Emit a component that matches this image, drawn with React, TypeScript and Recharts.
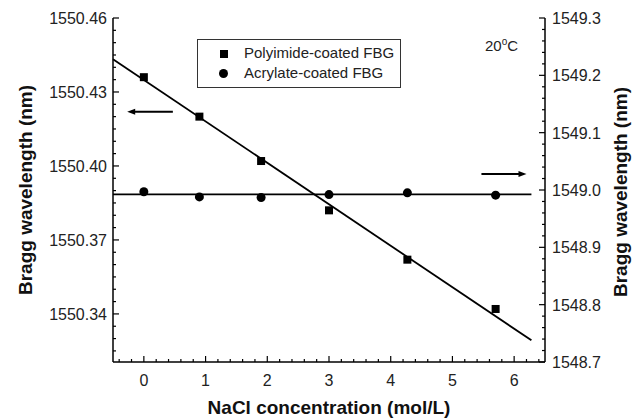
import {
  ComposedChart,
  Label,
  ReferenceLine,
  Scatter,
  XAxis,
  YAxis,
} from "recharts";

// NaCl concentration (mol/L)
const concentration = [0, 0.9, 1.9, 3.0, 4.27, 5.7];
// polyimide-coated FBG, left axis (nm)
const polyimideWl = [1550.436, 1550.42, 1550.402, 1550.382, 1550.362, 1550.342];
// acrylate-coated FBG, right axis (nm)
const acrylateWl = [1548.997, 1548.988, 1548.987, 1548.992, 1548.995, 1548.991];

// linear fits at their two ends
const polyimideFit = [{ x: -0.5, y: 1550.4433 }, { x: 6.28, y: 1550.3293 }];
const acrylateFit = [{ x: -0.5, y: 1548.9925 }, { x: 6.28, y: 1548.9925 }];

// arrows telling which axis each set belongs to (tail -> head)
const leftArrow = [{ x: 0.47, y: 1550.422 }, { x: -0.27, y: 1550.422 }];
const rightArrow = [{ x: 5.47, y: 1549.028 }, { x: 6.2, y: 1549.028 }];

const xDomain: [number, number] = [-0.5, 6.5];
const leftDomain: [number, number] = [1550.3205, 1550.46];
const rightDomain: [number, number] = [1548.7, 1549.3];

const xMajor = [0, 1, 2, 3, 4, 5, 6];
const leftMajor = [1550.34, 1550.37, 1550.4, 1550.43, 1550.46];
const rightMajor = [1548.7, 1548.8, 1548.9, 1549.0, 1549.1, 1549.2, 1549.3];

const steps = (from: number, to: number, step: number, dp: number) => {
  const out: number[] = [];
  for (let v = from; v <= to + step / 2; v += step) out.push(Number(v.toFixed(dp)));
  return out;
};
const xTicks = steps(-0.4, 6.4, 0.2, 1);
const leftTicks = steps(1550.325, 1550.46, 0.005, 3);
const rightTicks = steps(1548.7, 1549.3, 0.02, 2);

const isMajor = (v: number, list: number[]) => list.some((m) => Math.abs(m - v) < 1e-6);

const FONT = "'Liberation Sans', Arial, sans-serif";
const MAJOR = 6;
const MINOR = 3;

function BottomTick({ x, y, payload }: any) {
  const major = isMajor(payload.value, xMajor);
  return (
    <g>
      <line x1={x} y1={y} x2={x} y2={y - (major ? MAJOR : MINOR)} stroke="#000" strokeWidth={1.2} />
      {major && (
        <text x={x} y={y + 24} textAnchor="middle" fontSize={16} fontFamily={FONT} fill="#222">
          {payload.value}
        </text>
      )}
    </g>
  );
}

function TopTick({ x, y, payload }: any) {
  const major = isMajor(payload.value, xMajor);
  return <line x1={x} y1={y} x2={x} y2={y + (major ? MAJOR : MINOR)} stroke="#000" strokeWidth={1.2} />;
}

function LeftTick({ x, y, payload }: any) {
  const major = isMajor(payload.value, leftMajor);
  return (
    <g>
      <line x1={x} y1={y} x2={x + (major ? MAJOR : MINOR)} y2={y} stroke="#000" strokeWidth={1.2} />
      {major && (
        <text x={x - 6} y={y + 6} textAnchor="end" fontSize={16} fontFamily={FONT} fill="#222">
          {payload.value.toFixed(2)}
        </text>
      )}
    </g>
  );
}

function RightTick({ x, y, payload }: any) {
  const major = isMajor(payload.value, rightMajor);
  return (
    <g>
      <line x1={x} y1={y} x2={x - (major ? MAJOR : MINOR)} y2={y} stroke="#000" strokeWidth={1.2} />
      {major && (
        <text x={x + 7} y={y + 6} textAnchor="start" fontSize={16} fontFamily={FONT} fill="#222">
          {payload.value.toFixed(1)}
        </text>
      )}
    </g>
  );
}

function Arrow({ x1, y1, x2, y2 }: any) {
  const dir = Math.sign(x2 - x1);
  return (
    <g>
      <line x1={x1} y1={y1} x2={x2 - dir * 4} y2={y2} stroke="#000" strokeWidth={2} />
      <polygon points={`${x2},${y2} ${x2 - dir * 8},${y2 - 3} ${x2 - dir * 8},${y2 + 3}`} fill="#000" />
    </g>
  );
}

const squareShape = ({ cx, cy }: any) => <rect x={cx - 4} y={cy - 4} width={8} height={8} fill="#000" />;
const circleShape = ({ cx, cy }: any) => <circle cx={cx} cy={cy} r={4.5} fill="#000" />;

const axisTitle = (text: string, cx: number, cy: number, angle: number) => () => (
  <text
    x={cx} y={cy} textAnchor="middle" dominantBaseline="central"
    transform={angle ? `rotate(${angle} ${cx} ${cy})` : undefined}
    fontSize={19} fontWeight="bold" fontFamily={FONT} fill="#111"
  >
    {text}
  </text>
);

export default function App() {
  const polyimide = concentration.map((c, i) => ({ x: c, y: polyimideWl[i] }));
  const acrylate = concentration.map((c, i) => ({ x: c, y: acrylateWl[i] }));
  const axisLine = { stroke: "#000", strokeWidth: 1.5 };

  return (
    <div style={{ position: "absolute", left: 0, top: 0, width: 642, height: 418, background: "#fff" }}>
      <ComposedChart width={642} height={418} margin={{ top: 18, right: 37, bottom: 4, left: 53 }}>
        <XAxis
          type="number" dataKey="x" domain={xDomain} allowDataOverflow ticks={xTicks} interval={0}
          tick={<BottomTick />} tickLine={false} tickSize={0} tickMargin={0} axisLine={axisLine} height={52}
        >
          <Label content={axisTitle("NaCl concentration (mol/L)", 329, 407, 0)} />
        </XAxis>
        <XAxis
          xAxisId="top" orientation="top" type="number" domain={xDomain} allowDataOverflow ticks={xTicks}
          interval={0} tick={<TopTick />} tickLine={false} tickSize={0} tickMargin={0} axisLine={axisLine} height={0}
        />
        <YAxis
          yAxisId="left" type="number" dataKey="y" domain={leftDomain} allowDataOverflow ticks={leftTicks} interval={0}
          tick={<LeftTick />} tickLine={false} tickSize={0} tickMargin={0} axisLine={axisLine} width={60}
        >
          <Label content={axisTitle("Bragg wavelength (nm)", 25, 190, -90)} />
        </YAxis>
        <YAxis
          yAxisId="right" orientation="right" type="number" dataKey="y" domain={rightDomain} allowDataOverflow
          ticks={rightTicks} interval={0} tick={<RightTick />} tickLine={false} tickSize={0} tickMargin={0}
          axisLine={axisLine} width={60}
        >
          <Label content={axisTitle("Bragg wavelength (nm)", 620, 192, -90)} />
        </YAxis>

        <ReferenceLine yAxisId="left" segment={polyimideFit} stroke="#000" strokeWidth={1.8} ifOverflow="visible" />
        <ReferenceLine yAxisId="right" segment={acrylateFit} stroke="#000" strokeWidth={1.8} ifOverflow="visible" />
        <ReferenceLine yAxisId="left" segment={leftArrow} shape={(p: any) => <Arrow {...p} />} ifOverflow="visible" />
        <ReferenceLine yAxisId="right" segment={rightArrow} shape={(p: any) => <Arrow {...p} />} ifOverflow="visible" />

        <Scatter yAxisId="left" data={polyimide} dataKey="y" shape={squareShape} isAnimationActive={false} />
        <Scatter yAxisId="right" data={acrylate} dataKey="y" shape={circleShape} isAnimationActive={false} />
      </ComposedChart>

      <div
        style={{
          position: "absolute", left: 197, top: 39, width: 204, height: 49, border: "1px solid #333",
          fontFamily: FONT, fontSize: 15, color: "#222", boxSizing: "border-box",
        }}
      >
        <div style={{ position: "absolute", left: 22, top: 10, width: 8, height: 8, background: "#000" }} />
        <div style={{ position: "absolute", left: 46, top: 4, lineHeight: "18px" }}>Polyimide-coated FBG</div>
        <div style={{ position: "absolute", left: 21, top: 29, width: 9, height: 9, borderRadius: "50%", background: "#000" }} />
        <div style={{ position: "absolute", left: 46, top: 24, lineHeight: "18px" }}>Acrylate-coated FBG</div>
      </div>

      <div style={{ position: "absolute", left: 485, top: 36, fontFamily: FONT, fontSize: 15, color: "#222", lineHeight: "20px" }}>
        20<span style={{ fontSize: 10, position: "relative", top: -6 }}>o</span>C
      </div>
    </div>
  );
}
